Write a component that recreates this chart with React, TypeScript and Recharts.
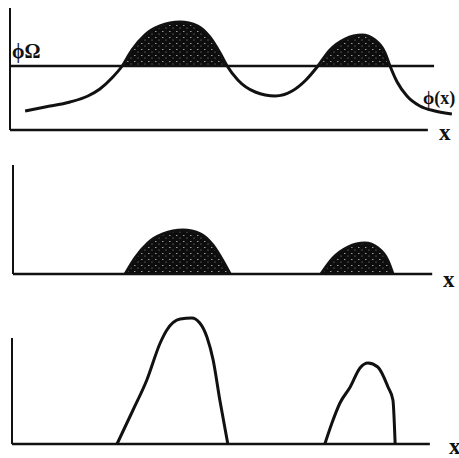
import React from 'react';
import { ComposedChart, Area, Line, XAxis, YAxis, ReferenceLine } from 'recharts';

// phi(x) (x position, potential)
const phiX = [0.34, 0.79, 1.35, 1.75, 2.02, 2.29, 2.52, 2.74, 3.03, 3.37, 3.82, 4.22, 4.49, 4.72, 4.88, 5.12, 5.51, 5.96, 6.34, 6.65, 6.92, 7.19, 7.53, 7.91, 8.2, 8.43, 8.54, 8.7, 8.92, 9.21, 9.55, 9.93];
const phiY = [1.9, 2.3, 2.8, 3.4, 4.1, 5.2, 6.4, 8.0, 9.5, 10.4, 10.8, 10.4, 9.3, 7.7, 6.4, 5.0, 3.8, 3.4, 3.9, 5.0, 6.4, 8.0, 9.1, 9.5, 9.0, 7.7, 6.4, 4.8, 3.4, 2.4, 1.9, 1.6];
const PHI_OMEGA = 6.4;

// bottom panel: two peaks
const peak1X = [2.36, 2.72, 3.03, 3.33, 3.48, 3.78, 4.04, 4.22, 4.38, 4.52, 4.67, 4.85];
const peak1Y = [0, 3.4, 6.4, 10.1, 11.4, 12.5, 12.6, 12.1, 10.7, 8.4, 4.4, 0];
const peak2X = [7.03, 7.19, 7.37, 7.6, 7.82, 8.0, 8.22, 8.45, 8.56, 8.61];
const peak2Y = [0, 2.1, 4.1, 5.7, 7.6, 8.1, 7.7, 5.7, 4.4, 0];

const phiData = phiX.map((x, i) => ({
  x,
  y: phiY[i],
  band: [PHI_OMEGA, Math.max(phiY[i], PHI_OMEGA)],
  excess: Math.max(phiY[i] - PHI_OMEGA, 0),
}));
// the parts of phi above phi_Omega (crossing to crossing)
const bump1 = phiData.slice(6, 15);
const bump2 = phiData.slice(20, 27);
const peak1 = peak1X.map((x, i) => ({ x, y: peak1Y[i] }));
const peak2 = peak2X.map((x, i) => ({ x, y: peak2Y[i] }));

const INK = '#111';
const serif = '"Liberation Serif", "DejaVu Serif", serif';

const Speckle = ({ id }: { id: string }) => (
  <defs>
    <pattern id={id} width="7" height="6" patternUnits="userSpaceOnUse">
      <rect width="7" height="6" fill="#0d0d0d" />
      <rect x="1" y="1" width="1.5" height="1" fill="#9a9a9a" />
      <rect x="4.5" y="3.5" width="1" height="1.2" fill="#777" />
    </pattern>
  </defs>
);

const Lbl: React.FC<{ left: number; top: number; size: number; children: React.ReactNode }> = ({ left, top, size, children }) => (
  <div style={{ position: 'absolute', left, top, fontSize: size, lineHeight: 1, fontFamily: serif, fontWeight: 'bold', color: INK, whiteSpace: 'nowrap' }}>
    {children}
  </div>
);

const axes = (maxY: number) => [
  <XAxis key="xa" type="number" dataKey="x" domain={[0, 10]} hide />,
  <YAxis key="ya" type="number" domain={[0, maxY]} hide />,
];

const App: React.FC = () => {
  return (
    <div style={{ position: 'absolute', left: 0, top: 0, width: 459, height: 458, background: '#fff', overflow: 'hidden' }}>
      {/* top: phi(x) against phi_Omega */}
      <div style={{ position: 'absolute', left: 0, top: 0 }}>
        <ComposedChart width={459} height={150} data={phiData} margin={{ top: 10, right: 4, bottom: 20, left: 10 }}>
          <Speckle id="sp1" />
          {axes(12)}
          <Area type="monotone" dataKey="band" stroke="none" fill="url(#sp1)" fillOpacity={1} isAnimationActive={false} />
          <ReferenceLine segment={[{ x: 0, y: 0 }, { x: 0, y: 12.2 }]} stroke={INK} strokeWidth={2} ifOverflow="visible" />
          <ReferenceLine segment={[{ x: 0, y: 0 }, { x: 9.39, y: 0 }]} stroke={INK} strokeWidth={2.5} />
          <ReferenceLine segment={[{ x: 0, y: PHI_OMEGA }, { x: 9.53, y: PHI_OMEGA }]} stroke={INK} strokeWidth={2.5} />
          <Line type="monotone" dataKey="y" stroke={INK} strokeWidth={3} dot={false} isAnimationActive={false} />
        </ComposedChart>
      </div>

      {/* middle: excess over phi_Omega */}
      <div style={{ position: 'absolute', left: 0, top: 150 }}>
        <ComposedChart width={459} height={150} margin={{ top: 4, right: 1, bottom: 26, left: 13 }}>
          <Speckle id="sp2" />
          {axes(12)}
          <ReferenceLine segment={[{ x: 0, y: 0 }, { x: 0, y: 10.9 }]} stroke={INK} strokeWidth={2} />
          <ReferenceLine segment={[{ x: 0, y: 0 }, { x: 9.42, y: 0 }]} stroke={INK} strokeWidth={2.5} />
          <Area data={bump1} type="monotone" dataKey="excess" baseValue={0} stroke={INK} strokeWidth={3} fill="url(#sp2)" fillOpacity={1} isAnimationActive={false} />
          <Area data={bump2} type="monotone" dataKey="excess" baseValue={0} stroke={INK} strokeWidth={3} fill="url(#sp2)" fillOpacity={1} isAnimationActive={false} />
        </ComposedChart>
      </div>

      {/* bottom: two peaks, outline only */}
      <div style={{ position: 'absolute', left: 0, top: 300 }}>
        <ComposedChart width={459} height={158} margin={{ top: 4, right: 2, bottom: 14, left: 12 }}>
          {axes(14)}
          <ReferenceLine segment={[{ x: 0, y: 0 }, { x: 0, y: 10.6 }]} stroke={INK} strokeWidth={2} />
          <ReferenceLine segment={[{ x: 0, y: 0 }, { x: 9.39, y: 0 }]} stroke={INK} strokeWidth={2.5} />
          <Line data={peak1} type="monotone" dataKey="y" stroke={INK} strokeWidth={3} dot={false} isAnimationActive={false} />
          <Line data={peak2} type="monotone" dataKey="y" stroke={INK} strokeWidth={3} dot={false} isAnimationActive={false} />
        </ComposedChart>
      </div>

      <Lbl left={12} top={41} size={20}>ϕΩ</Lbl>
      <Lbl left={423} top={89} size={18}>ϕ(x)</Lbl>
      <Lbl left={439} top={121} size={23}>x</Lbl>
      <Lbl left={443} top={268} size={23}>x</Lbl>
      <Lbl left={449} top={435} size={23}>x</Lbl>
    </div>
  );
};

export default App;
